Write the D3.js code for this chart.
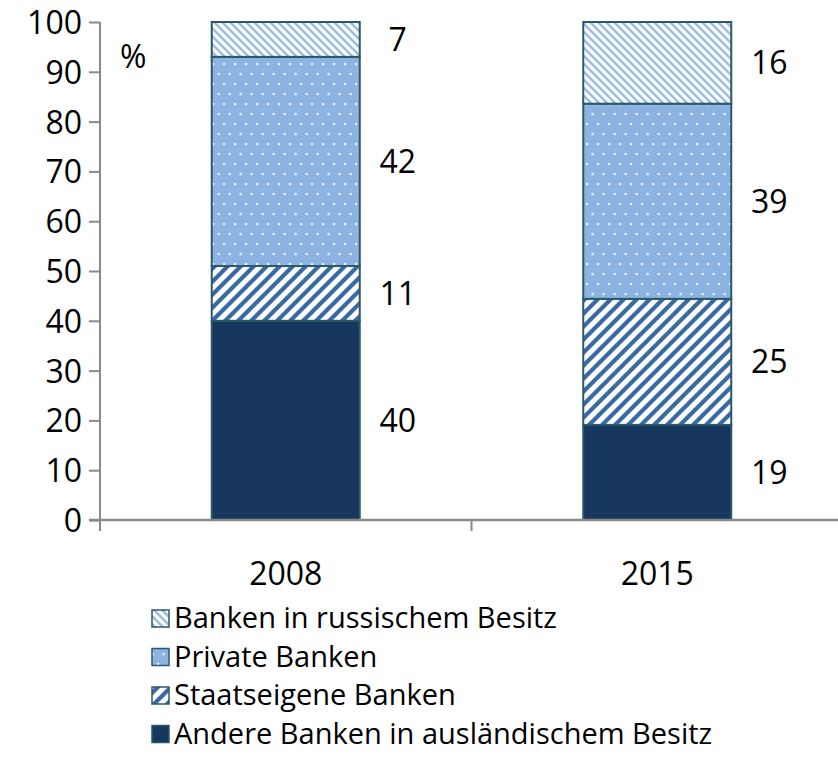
<!DOCTYPE html>
<html><head><meta charset="utf-8">
<script src="https://cdn.jsdelivr.net/npm/d3@7/dist/d3.min.js"></script>
<style>body{margin:0;background:#fff}svg{display:block}text{font-family:"Open Sans",Lato,sans-serif;fill:#000}</style>
</head><body><svg id="c" width="838" height="758"></svg>
<script>
const categories = ["2008", "2015"];
const seriesNames = ["Andere Banken in ausländischem Besitz", "Staatseigene Banken", "Private Banken", "Banken in russischem Besitz"];
const andere = [40, 19.1];
const staat = [11, 25.3];
const privat = [42, 39.2];
const russ = [7, 16.4];
const yTicks = [0,10,20,30,40,50,60,70,80,90,100];

const svg = d3.select("#c");
const defs = svg.append("defs");
const pRuss = defs.append("pattern").attr("id","pRuss").attr("patternUnits","userSpaceOnUse").attr("width",8).attr("height",8);
pRuss.append("rect").attr("width",8).attr("height",8).attr("fill","#fff");
pRuss.append("path").attr("d","M-2,-2 L10,10 M-2,6 L2,10 M6,-2 L10,2").attr("stroke","#9dbde6").attr("stroke-width",2.6);
const pPriv = defs.append("pattern").attr("id","pPriv").attr("patternUnits","userSpaceOnUse").attr("width",22).attr("height",20);
pPriv.append("rect").attr("width",22).attr("height",20).attr("fill","#8db3e2");
[[3,3],[14,3],[8.5,13],[19.5,13]].forEach(([x,y])=>pPriv.append("rect").attr("x",x).attr("y",y).attr("width",2.2).attr("height",2.2).attr("fill","#eef4fc"));
const pStaat = defs.append("pattern").attr("id","pStaat").attr("patternUnits","userSpaceOnUse").attr("width",13).attr("height",13);
pStaat.append("rect").attr("width",13).attr("height",13).attr("fill","#fff");
pStaat.append("path").attr("d","M-3,16 L16,-3 M-3,3 L3,-3 M10,16 L16,10").attr("stroke","#3a6aa3").attr("stroke-width",4.2);

const fills = ["#17375e", "url(#pStaat)", "url(#pPriv)", "url(#pRuss)"];

const xb = d3.scaleBand().domain(categories).range([100, 843]);
const y = d3.scaleLinear().domain([0,100]).range([520, 22]);

const data = categories.map((c,i)=>({cat:c, andere:andere[i], staat:staat[i], privat:privat[i], russ:russ[i]}));
const stack = d3.stack().keys(["andere","staat","privat","russ"])(data);
const fmt = d3.format(".0f");

const axisCol = "#898989";
const yAx = svg.append("g").attr("transform","translate(100,0)")
  .call(d3.axisLeft(y).tickValues(yTicks).tickSize(11).tickPadding(7));
yAx.select(".domain").attr("stroke",axisCol).attr("stroke-width",2).attr("d","M0,"+y(100)+"V530");
yAx.selectAll(".tick line").attr("stroke",axisCol).attr("stroke-width",2);
yAx.selectAll(".tick text").attr("font-size",32).attr("font-family","'Open Sans',sans-serif").attr("fill","#000").attr("dy","0.36em");

const bw = 148;
stack.forEach((s,si)=>{
  svg.append("g").selectAll("rect").data(s).join("rect")
    .attr("x", d=>xb(d.data.cat)+xb.bandwidth()/2-bw/2)
    .attr("width", bw)
    .attr("y", d=>y(d[1]))
    .attr("height", d=>y(d[0])-y(d[1]))
    .attr("fill", fills[si])
    .attr("stroke","#2a5a6a").attr("stroke-width",2);
});

const xAx = svg.append("g").attr("transform","translate(0,520)");
xAx.append("line").attr("x1",89).attr("x2",838).attr("y1",0).attr("y2",0).attr("stroke",axisCol).attr("stroke-width",2.5);
[100, xb("2015"), 843].forEach(v=>xAx.append("line").attr("x1",v).attr("x2",v).attr("y1",0).attr("y2",11).attr("stroke",axisCol).attr("stroke-width",2));
categories.forEach(c=>xAx.append("text").attr("x",xb(c)+xb.bandwidth()/2).attr("y",53).attr("dy","0.36em").attr("text-anchor","middle").attr("font-size",32).text(c));

stack.forEach((s,si)=>{
  svg.append("g").selectAll("text").data(s).join("text")
    .attr("x", d=>xb(d.data.cat)+xb.bandwidth()/2+bw/2+38)
    .attr("y", d=>y((d[0]+d[1])/2))
    .attr("dy","0.36em")
    .attr("text-anchor","middle")
    .attr("font-size",32)
    .text(d=>fmt(d[1]-d[0]));
});

svg.append("text").attr("x",120).attr("y",56).attr("dy","0.36em").attr("font-size",32).text("%");

const legOrder = [3,2,1,0];
legOrder.forEach((si,i)=>{
  const ly = 618 + i*38.5;
  svg.append("rect").attr("x",152).attr("y",ly-8).attr("width",17).attr("height",17)
    .attr("fill",fills[si]).attr("stroke","#2a5a6a").attr("stroke-width",1.5);
  svg.append("text").attr("x",174).attr("y",ly).attr("dy","0.36em").attr("font-size",29).text(seriesNames[si]);
});
</script></body></html>
